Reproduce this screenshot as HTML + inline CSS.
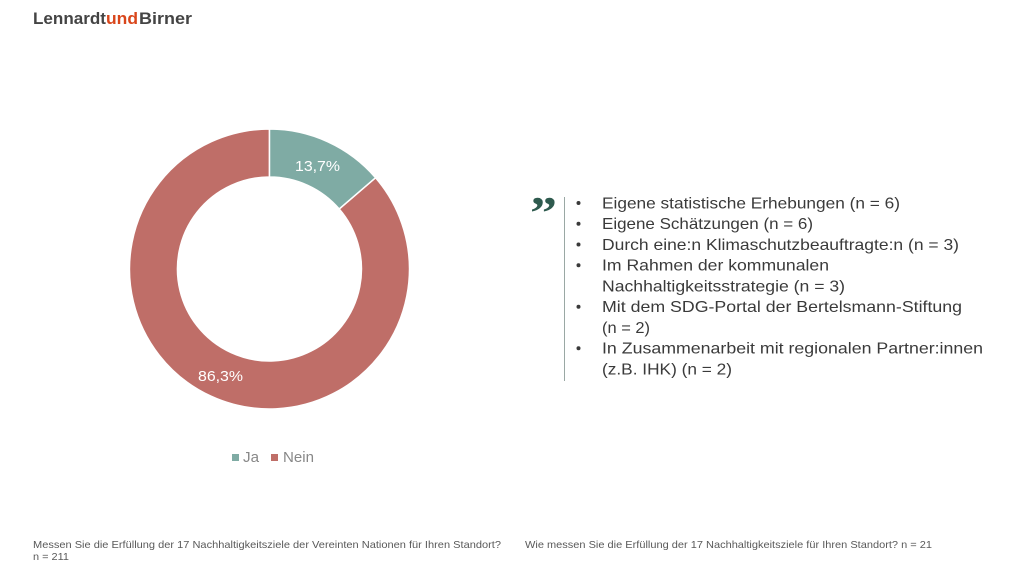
<!DOCTYPE html>
<html>
<head>
<meta charset="utf-8">
<style>
  html,body{margin:0;padding:0;background:#fff;}
  svg{display:block;}
  text{font-family:"Liberation Sans","DejaVu Sans",sans-serif;}
</style>
</head>
<body>
<svg width="1024" height="578" viewBox="0 0 1024 578" xmlns="http://www.w3.org/2000/svg">
  <rect width="1024" height="578" fill="#ffffff"/>

  <!-- Logo -->
  <text x="33" y="24" font-size="17" font-weight="bold" fill="#444444" textLength="73" lengthAdjust="spacingAndGlyphs">Lennardt</text>
  <text x="106" y="24" font-size="17" font-weight="bold" fill="#d9461b" textLength="32" lengthAdjust="spacingAndGlyphs">und</text>
  <text x="139" y="24" font-size="17" font-weight="bold" fill="#444444" textLength="53" lengthAdjust="spacingAndGlyphs">Birner</text>

  <!-- Donut -->
  <path d="M 375.6 177.7 A 140 140 0 1 1 269.5 129 L 269.5 177 A 92 92 0 1 0 339.2 209 Z" fill="#bf6e68" stroke="#ffffff" stroke-width="1.5"/>
  <path d="M 269.5 129 A 140 140 0 0 1 375.6 177.7 L 339.2 209 A 92 92 0 0 0 269.5 177 Z" fill="#7faba4" stroke="#ffffff" stroke-width="1.5"/>

  <text x="317.5" y="171" font-size="15" fill="#ffffff" text-anchor="middle" textLength="45" lengthAdjust="spacingAndGlyphs">13,7%</text>
  <text x="220.5" y="381" font-size="15" fill="#ffffff" text-anchor="middle" textLength="45" lengthAdjust="spacingAndGlyphs">86,3%</text>

  <!-- Legend -->
  <rect x="232" y="454" width="7" height="7" fill="#7faba4"/>
  <text x="243" y="462" font-size="15" fill="#888888" textLength="16" lengthAdjust="spacingAndGlyphs">Ja</text>
  <rect x="271" y="454" width="7" height="7" fill="#bf6e68"/>
  <text x="283" y="462" font-size="15" fill="#888888" textLength="31" lengthAdjust="spacingAndGlyphs">Nein</text>

  <!-- Quote mark -->
  <text x="530" y="228" font-size="46" font-weight="bold" style="font-family:'Liberation Serif',serif" fill="#2e5a4e" textLength="27" lengthAdjust="spacingAndGlyphs">&#8221;</text>
  <!-- Vertical line -->
  <line x1="564.5" y1="197" x2="564.5" y2="381" stroke="#9aa8a4" stroke-width="1"/>

  <!-- Bullets -->
  <g fill="#3a3a3a">
    <circle cx="578.5" cy="203" r="2"/>
    <circle cx="578.5" cy="223.75" r="2"/>
    <circle cx="578.5" cy="244.5" r="2"/>
    <circle cx="578.5" cy="265.25" r="2"/>
    <circle cx="578.5" cy="306.75" r="2"/>
    <circle cx="578.5" cy="348.25" r="2"/>
  </g>
  <g font-size="16" fill="#3a3a3a">
    <text x="602" y="208.3" textLength="298" lengthAdjust="spacingAndGlyphs">Eigene statistische Erhebungen (n = 6)</text>
    <text x="602" y="229" textLength="211" lengthAdjust="spacingAndGlyphs">Eigene Schätzungen (n = 6)</text>
    <text x="602" y="249.8" textLength="357" lengthAdjust="spacingAndGlyphs">Durch eine:n Klimaschutzbeauftragte:n (n = 3)</text>
    <text x="602" y="270.5" textLength="227" lengthAdjust="spacingAndGlyphs">Im Rahmen der kommunalen</text>
    <text x="602" y="291.3" textLength="243" lengthAdjust="spacingAndGlyphs">Nachhaltigkeitsstrategie (n = 3)</text>
    <text x="602" y="312" textLength="360" lengthAdjust="spacingAndGlyphs">Mit dem SDG-Portal der Bertelsmann-Stiftung</text>
    <text x="602" y="332.8" textLength="48" lengthAdjust="spacingAndGlyphs">(n = 2)</text>
    <text x="602" y="353.5" textLength="381" lengthAdjust="spacingAndGlyphs">In Zusammenarbeit mit regionalen Partner:innen</text>
    <text x="602" y="374.3" textLength="130" lengthAdjust="spacingAndGlyphs">(z.B. IHK) (n = 2)</text>
  </g>

  <!-- Footer -->
  <g font-size="10.5" fill="#595959">
    <text x="33" y="548" textLength="468" lengthAdjust="spacingAndGlyphs">Messen Sie die Erfüllung der 17 Nachhaltigkeitsziele der Vereinten Nationen für Ihren Standort?</text>
    <text x="33" y="560" textLength="36" lengthAdjust="spacingAndGlyphs">n = 211</text>
    <text x="525" y="548" textLength="407" lengthAdjust="spacingAndGlyphs">Wie messen Sie die Erfüllung der 17 Nachhaltigkeitsziele für Ihren Standort? n = 21</text>
  </g>
</svg>
</body>
</html>
